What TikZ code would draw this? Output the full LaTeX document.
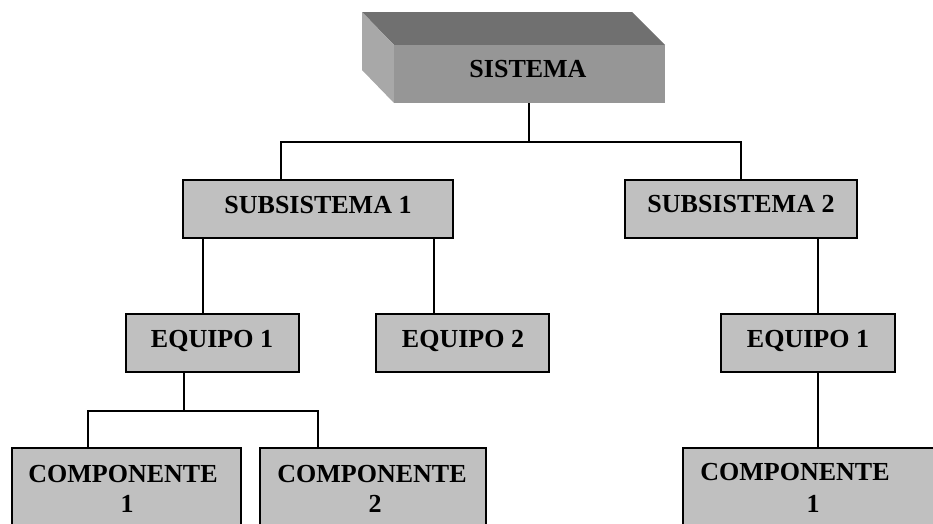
\documentclass[tikz,border=0pt]{standalone}
\usepackage{fontspec}
\setmainfont{Liberation Serif}
\definecolor{boxgray}{HTML}{C0C0C0}
\definecolor{frontgray}{HTML}{969696}
\definecolor{topgray}{HTML}{707070}
\definecolor{sidegray}{HTML}{A8A8A8}
\begin{document}
\begin{tikzpicture}[x=1pt,y=-1pt,
  bx/.style={draw=black, fill=boxgray, line width=1.4pt, inner sep=0pt, outer sep=0pt},
  lbl/.style={font=\fontsize{26}{30}\selectfont\bfseries, anchor=base, inner sep=0pt},
  conn/.style={draw=black, line width=1.4pt}]
\useasboundingbox (0,0) rectangle (933,523);
\clip (0,0) rectangle (933,523);
% SISTEMA 3D block
\fill[topgray] (362,12) -- (632,12) -- (665,45) -- (394,45) -- cycle;
\fill[sidegray] (362,12) -- (394,45) -- (394,103) -- (362,70) -- cycle;
\node[fill=frontgray, inner sep=0pt, outer sep=0pt, minimum width=271pt, minimum height=58pt] (sis) at (529.5,74) {};
% boxes
\node[bx, minimum width=270pt, minimum height=58pt] (sub1) at (318,209) {};
\node[bx, minimum width=232pt, minimum height=58pt] (sub2) at (741,209) {};
\node[bx, minimum width=173pt, minimum height=58pt] (eqa) at (212.5,343) {};
\node[bx, minimum width=173pt, minimum height=58pt] (eqb) at (462.5,343) {};
\node[bx, minimum width=174pt, minimum height=58pt] (eqc) at (808,343) {};
\node[bx, minimum width=229pt, minimum height=100pt] (compa) at (126.5,498) {};
\node[bx, minimum width=226pt, minimum height=100pt] (compb) at (373,498) {};
\node[bx, minimum width=290pt, minimum height=100pt] (compc) at (828,498) {};
% labels
\node[lbl] (tsis) at (528,77) {SISTEMA};
\node[lbl] (tsub1) at (318,213) {SUBSISTEMA 1};
\node[lbl] (tsub2) at (741,212) {SUBSISTEMA 2};
\node[lbl] (teqa) at (212,347) {EQUIPO 1};
\node[lbl] (teqb) at (463,347) {EQUIPO 2};
\node[lbl] (teqc) at (808,347) {EQUIPO 1};
\node[lbl] (tca1) at (123,482) {COMPONENTE};
\node[lbl] (tca2) at (127,512) {1};
\node[lbl] (tcb1) at (372,482) {COMPONENTE};
\node[lbl] (tcb2) at (375,512) {2};
\node[lbl] (tcc1) at (795,480) {COMPONENTE};
\node[lbl] (tcc2) at (813,512) {1};
% connectors
\draw[conn] ([xshift=-0.5pt]sis.south) -- ++(0,39) coordinate (h0);
\draw[conn] ([xshift=98pt]sub1.north west) |- (h0) -| ([xshift=116pt]sub2.north west);
\draw[conn] ([xshift=20pt]sub1.south west) -- ([xshift=77pt]eqa.north west);
\draw[conn] ([xshift=251pt]sub1.south west) -- ([xshift=58pt]eqb.north west);
\draw[conn] ([xshift=193pt]sub2.south west) -- ([xshift=97pt]eqc.north west);
\draw[conn] ([xshift=58pt]eqa.south west) -- ++(0,39) coordinate (h1);
\draw[conn] ([xshift=76pt]compa.north west) |- (h1) -| ([xshift=58pt]compb.north west);
\draw[conn] ([xshift=97pt]eqc.south west) -- ([xshift=135pt]compc.north west);
\end{tikzpicture}
\end{document}
